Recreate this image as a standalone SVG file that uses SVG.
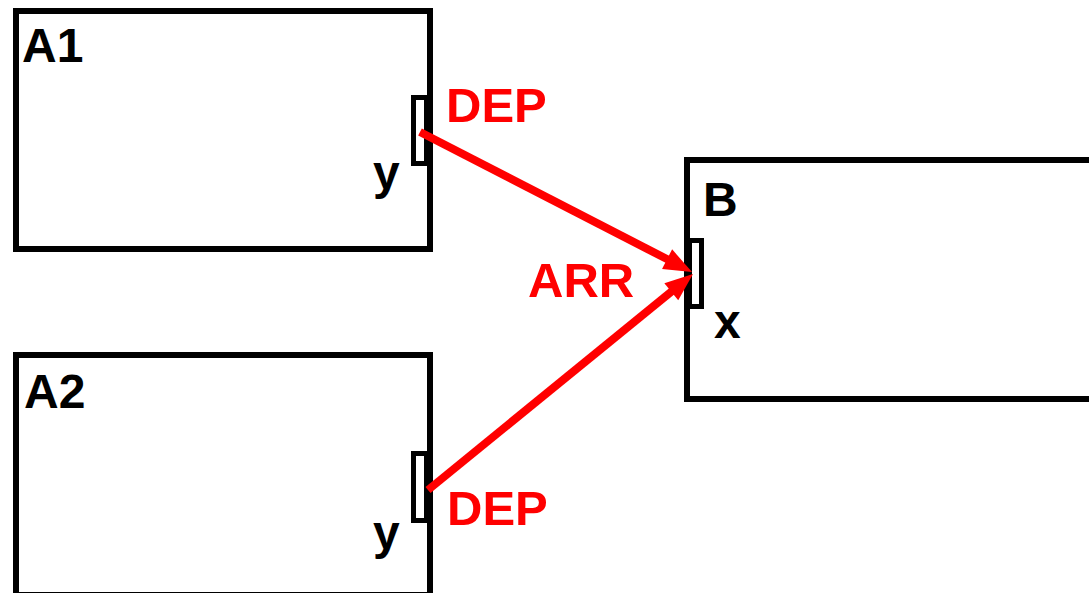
<svg xmlns="http://www.w3.org/2000/svg" width="1089" height="593" viewBox="0 0 1089 593">
  <style>
    .box { fill: #fff; stroke: #000; stroke-width: 6; }
    .port { fill: #fff; stroke: #000; stroke-width: 5; }
    .lbl { font-family: "Liberation Sans", Arial, sans-serif; font-weight: bold; font-size: 48px; fill: #000; }
    .red { font-family: "Liberation Sans", Arial, sans-serif; font-weight: bold; font-size: 49px; fill: #ff0000; }
    .conn { stroke: #ff0000; stroke-width: 8; fill: none; marker-end: url(#ah); }
  </style>
  <defs>
    <marker id="ah" markerUnits="userSpaceOnUse" markerWidth="30" markerHeight="24" refX="8" refY="11" orient="auto" overflow="visible">
      <path d="M0,0 L28,11 L0,22 z" fill="#ff0000"/>
    </marker>
  </defs>
  <rect width="1089" height="593" fill="#fff"/>
  <g id="A1">
    <rect class="box" x="16" y="11" width="414" height="238"/>
    <rect class="port" x="413.5" y="97.5" width="13" height="66"/>
    <text class="lbl" x="22" y="62">A1</text>
    <text class="lbl" x="373" y="189">y</text>
  </g>
  <g id="A2">
    <rect class="box" x="16" y="355" width="414" height="240"/>
    <rect class="port" x="413.5" y="453.5" width="13" height="67"/>
    <text class="lbl" x="24" y="408">A2</text>
    <text class="lbl" x="373" y="549">y</text>
  </g>
  <g id="B">
    <rect class="box" x="687" y="160" width="420" height="239"/>
    <rect class="port" x="689.5" y="240.5" width="12" height="66"/>
    <text class="lbl" x="703" y="216">B</text>
    <text class="lbl" x="714" y="338">x</text>
  </g>
  <g id="connectors">
    <line class="conn" x1="420" y1="132" x2="674.2" y2="262.8"/>
    <line class="conn" x1="428" y1="490" x2="677.5" y2="286.6"/>
    <text class="red" x="446" y="122">DEP</text>
    <text class="red" x="447" y="525">DEP</text>
    <text class="red" x="528" y="297">ARR</text>
  </g>
</svg>
